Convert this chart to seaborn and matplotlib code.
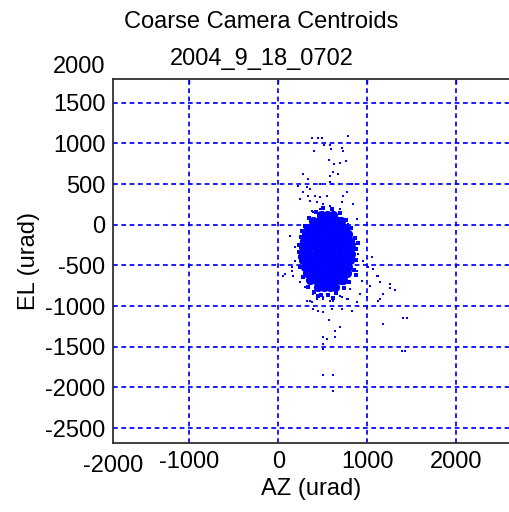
import matplotlib
matplotlib.use("Agg")
import matplotlib.pyplot as plt
import seaborn as sns
import pandas as pd

# ---------------- data (urad) ----------------
outlier_az = [383, 450, 490, 788, 402, 518, 582, 589, 713, 724, 574, 627, 694, 758,
              281, 619, 582, 675, 338, 469, 582, 619, 826, 225, 319, 357, 281, 338,
              413, 469, 544, 769, 731, 244, 357, 432, 506, 582, 713, 844, 394, 506, 619,
              375, 469, 694, 882, 788,
              131, 188, 150, 75, 169, 244, 300,
              863, 900, 956, 1013, 882, 938, 1032, 1107, 807, 919, 994,
              394, 506, 619, 357, 694, 769,
              319, 375, 432, 506, 582, 713, 788, 882, 394, 450, 506, 600, 713, 826,
              574, 694, 638, 506, 544, 638, 506, 506, 506, 612, 612, 1181, 1144,
              1051, 1069, 1125, 1144, 1257, 1257, 1313, 1181, 1125, 1400, 1450, 1181,
              1390, 1430, 56, 150, 188]
outlier_el = [1066, 1066, 1066, 1095, 910, 984, 984, 931, 943, 910, 796, 747, 755, 780,
              624, 644, 603, 624, 562, 501, 521, 501, 501, 480, 460, 439, 398, 357,
              357, 344, 357, 398, 357, 316, 295, 275, 254, 234, 275, 254, 162, 162, 162,
              172, 193, 193, 70, 9,
              -135, -278, -524, -606, -627, -708, -770,
              -237, -360, -443, -524, -565, -688, -750, -627, -791, -852, -893,
              -852, -914, -935, -935, -873, -914,
              -935, -955, -914, -893, -935, -893, -914, -955, -1037, -1058, -1078, -1037, -1037, -1058,
              -1172, -1262, -1304, -1385, -1406, -1385, -1529, -1467, -1845, -1845, -2042, -1221, -914,
              -401, -545, -627, -708, -729, -782, -799, -852, -935, -1151, -1151, -1221,
              -1550, -1550, -627, -565, -442]

# ragged edge of the dense cloud
fringe_az = [260, 230, 240, 250, 280, 330, 400, 480, 560, 650, 740, 800, 850, 870,
             880, 860, 820, 760, 690, 600, 500, 420, 350, 300, 270, 880, 230, 900,
             620, 450]
fringe_el = [-150, -250, -400, -520, -640, -760, -830, -860, -870, -840, -780, -700,
             -560, -440, -300, -160, -40, 60, 140, 190, 200, 160, 80, -20, -80, -620,
             -330, -220, -900, -880]

# dense core of the cloud, row by row (EL of the row, AZ values along it)
core_el = [120, 40, -40, -120, -200, -280, -360, -440, -520, -600, -680, -760]
core_az = [
    [480, 550, 620],
    [390, 460, 530, 600, 670, 710],
    [340, 410, 480, 550, 620, 690, 750],
    [310, 380, 450, 520, 590, 660, 730, 790],
    [290, 360, 430, 500, 570, 640, 710, 780, 810],
    [280, 350, 420, 490, 560, 630, 700, 770, 820],
    [275, 340, 410, 480, 550, 620, 690, 760, 820],
    [280, 350, 420, 490, 560, 630, 700, 770, 810],
    [300, 370, 440, 510, 580, 650, 720, 790],
    [320, 390, 460, 530, 600, 670, 740, 770],
    [360, 430, 500, 570, 640, 710, 730],
    [450, 510, 580, 640],
]

x_ticks = [-1000, 0, 1000, 2000]
y_ticks = [-2500, -2000, -1500, -1000, -500, 0, 500, 1000, 1500]
x_lim = (-1858, 2596)
y_lim = (-2684, 1791)

title1 = "Coarse Camera Centroids"
title2 = "2004_9_18_0702"
xlab = "AZ (urad)"
ylab = "EL (urad)"

# ---------------- figure ----------------
sns.set_style("white")
plt.rcParams["font.family"] = ["Liberation Sans", "DejaVu Sans"]
plt.rcParams["lines.scale_dashes"] = False
plt.rcParams["text.color"] = "black"
plt.rcParams["axes.labelcolor"] = "black"
FS = 17
BLUE = "#0000FF"

W, H = 509, 512
fig = plt.figure(figsize=(W / 100, H / 100), dpi=100)
ax = fig.add_axes([113 / W, (H - 443) / H, (W - 113) / W, (443 - 79) / H])

df_out = pd.DataFrame({"AZ": outlier_az, "EL": outlier_el})
df_fringe = pd.DataFrame({"AZ": fringe_az, "EL": fringe_el})
core_rows = [(az, el) for el, row in zip(core_el, core_az) for az in row]
df_core = pd.DataFrame(core_rows, columns=["AZ", "EL"])

sns.scatterplot(data=df_core, x="AZ", y="EL", ax=ax, color=BLUE, s=44,
                marker="o", linewidth=0, zorder=3)
sns.scatterplot(data=df_fringe, x="AZ", y="EL", ax=ax, color=BLUE, s=8,
                marker="s", linewidth=0, zorder=3)
sns.scatterplot(data=df_out, x="AZ", y="EL", ax=ax, color=BLUE, s=3.5,
                marker="s", linewidth=0, zorder=3)

ax.set_xlim(*x_lim)
ax.set_ylim(*y_lim)
ax.set_xticks(x_ticks)
ax.set_yticks(y_ticks)
ax.set_xticklabels([str(v) for v in x_ticks], fontsize=FS)
ax.set_yticklabels([str(v) for v in y_ticks], fontsize=FS)
ax.tick_params(axis="both", direction="in", length=3.6, width=1.0,
               color=BLUE, labelcolor="black", top=True, right=False, pad=5.5)

ax.grid(True, color=BLUE, linestyle=(0, (3.4, 2.6)), linewidth=1.25)
ax.set_axisbelow(True)

for side in ["left", "top", "bottom"]:
    ax.spines[side].set_color("#303030")
    ax.spines[side].set_linewidth(1.3)
ax.spines["right"].set_visible(False)

ax.set_xlabel(xlab, fontsize=FS, labelpad=4)
ax.set_ylabel(ylab, fontsize=FS)
ax.yaxis.set_label_coords(-73 / 396, 0.5)

# tick labels that sit just outside the data limits
ax.text(0.0, -12 / 364, "-2000", transform=ax.transAxes, fontsize=FS,
        ha="center", va="top", clip_on=False, color="black")
ax.text(-8 / 396, 1 + 14 / 364, "2000", transform=ax.transAxes, fontsize=FS,
        ha="right", va="center_baseline", clip_on=False, color="black")

fig.text(261 / W, 1 - 28.5 / H, title1, fontsize=FS, ha="center", va="baseline",
         color="black")
fig.text(262 / W, 1 - 65 / H, title2, fontsize=FS, ha="center", va="baseline",
         color="black")

fig.savefig("out.png", dpi=100)
